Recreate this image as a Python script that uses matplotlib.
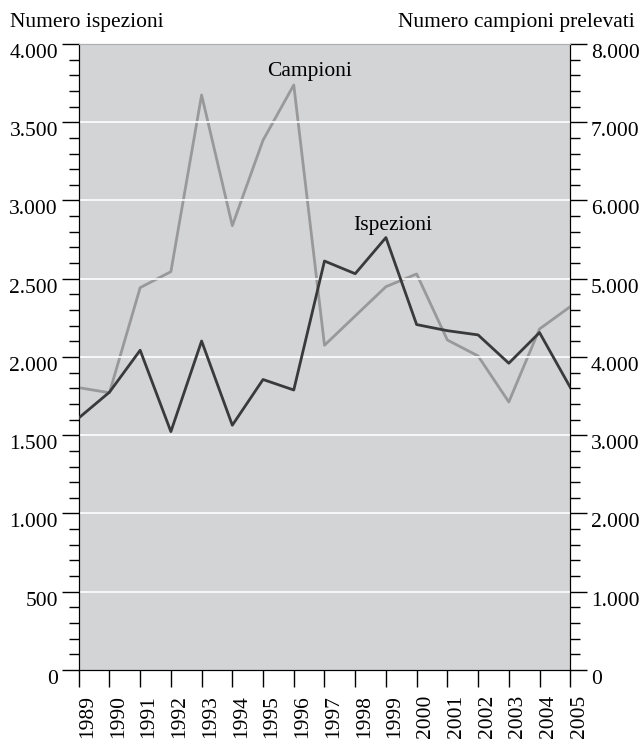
import matplotlib
matplotlib.use('Agg')
import matplotlib.pyplot as plt
import matplotlib.transforms as mtransforms
from matplotlib.ticker import MultipleLocator, FuncFormatter

plt.rcParams['font.family'] = ['Liberation Serif', 'DejaVu Serif']

# years and series
years = list(range(1989, 2006))
ispezioni = [1610, 1775, 2043, 1523, 2102, 1564, 1856, 1789, 2613, 2532,
             2763, 2207, 2168, 2141, 1960, 2156, 1806]
campioni = [3608, 3543, 4886, 5090, 7348, 5678, 6770, 7476, 4150, 4524,
            4898, 5061, 4217, 4013, 3425, 4358, 4643]


def it_thousands(v, pos):
    return f'{int(round(v)):,}'.replace(',', '.')


fs = 15.5
fig = plt.figure(figsize=(6.4, 7.4), dpi=100)
ax = fig.add_axes([0.123, 0.0946, 0.768, 0.846])
ax2 = ax.twinx()

ax.set_xlim(1989, 2005)
ax.set_ylim(0, 4000)
ax2.set_ylim(0, 8000)

# white horizontal grid
for v in range(500, 4000, 500):
    ax.axhline(v, color='white', linewidth=1.2, zorder=1)

ax2.plot(years, campioni, color='#999999', linewidth=2.0, zorder=3)
ax.plot(years, ispezioni, color='#3a3a3a', linewidth=2.0, zorder=4)
# dark line on top, grey background behind both
ax.set_zorder(ax2.get_zorder() + 1)
ax.patch.set_visible(False)
ax2.patch.set_visible(True)
ax2.set_facecolor('#d3d4d6')

ax.text(1996.53, 3795, 'Campioni', fontsize=fs, ha='center', va='baseline')
ax.text(1999.23, 2811, 'Ispezioni', fontsize=fs, ha='center', va='baseline')

ax.yaxis.set_major_locator(MultipleLocator(500))
ax.yaxis.set_minor_locator(MultipleLocator(100))
ax.yaxis.set_major_formatter(FuncFormatter(it_thousands))
ax2.yaxis.set_major_locator(MultipleLocator(1000))
ax2.yaxis.set_minor_locator(MultipleLocator(200))
ax2.yaxis.set_major_formatter(FuncFormatter(it_thousands))

ax.set_xticks(years)
ax.set_xticklabels([str(y) for y in years], rotation=90)

ax.tick_params(axis='y', which='major', length=12, width=1, labelsize=fs, pad=3)
ax.tick_params(axis='y', which='minor', length=7, width=1)
ax2.tick_params(axis='y', which='major', length=12, width=1, labelsize=fs, pad=3)
ax2.tick_params(axis='y', which='minor', length=7, width=1)
ax.tick_params(axis='x', which='major', length=12, width=1, labelsize=fs, pad=6)

# labels hang below their ticks, years sit a little right of theirs
for lab in ax.get_yticklabels() + ax2.get_yticklabels():
    lab.set_va('top')
shift = mtransforms.ScaledTranslation(0.09, 0, fig.dpi_scale_trans)
for lab in ax.get_xticklabels():
    lab.set_transform(lab.get_transform() + shift)

for a in (ax, ax2):
    a.spines['top'].set_color('#b0b0b0')
    a.spines['left'].set_color('black')
    a.spines['right'].set_color('black')
    a.spines['bottom'].set_color('black')

fig.text(0.015, 0.9635, 'Numero ispezioni', fontsize=fs, ha='left', va='baseline')
fig.text(0.992, 0.9635, 'Numero campioni prelevati', fontsize=fs, ha='right', va='baseline')

fig.savefig('out.png', dpi=100, facecolor='white')
